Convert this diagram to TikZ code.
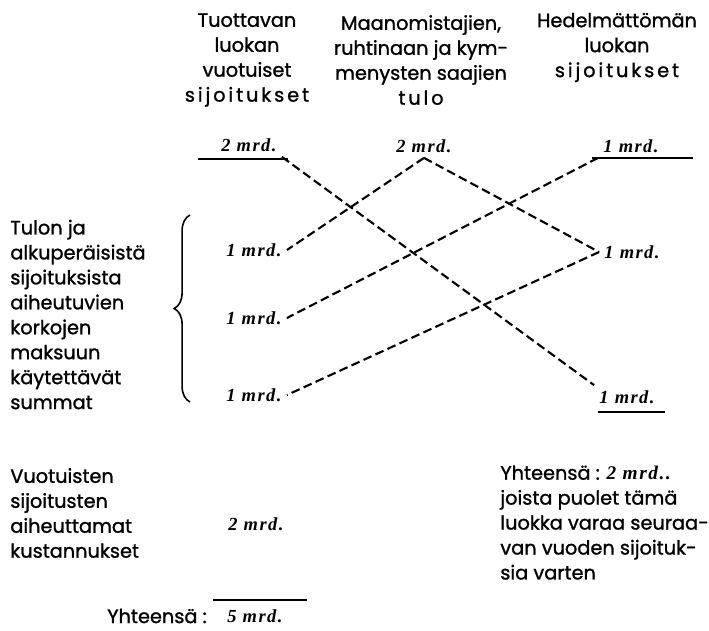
\documentclass[tikz,border=0pt]{standalone}
\usepackage{fontspec}
\setmainfont{Poppins}[FakeBold=1.2]
\newfontfamily\valfont{Liberation Serif}[LetterSpace=8]
\usepackage{tikz}
\usetikzlibrary{positioning,decorations.pathreplacing}
\newcommand{\spaced}[1]{{\addfontfeature{LetterSpace=15}#1}}

\begin{document}
\begin{tikzpicture}[x=0.02cm, y=-0.02cm,
  every node/.style={inner sep=0pt},
  txt/.style={font=\fontsize{11}{14.2}\selectfont},
  hd/.style={txt, align=center},
  val/.style={font=\valfont\bfseries\itshape\fontsize{10.5}{12}\selectfont, inner sep=0.1cm},
  link/.style={line width=1.2pt, dash pattern=on 5pt off 2.5pt},
  rule/.style={line width=1.2pt}]
  \useasboundingbox (0,0) rectangle (709,630);
  % column heads
  \node[hd] (colprod) at (247,60) {Tuottavan\\luokan\\vuotuiset\\\spaced{sijoitukset}};
  \node[hd] (colland) at (421,60) {Maanomistajien,\\ruhtinaan ja kym-\\menysten saajien\\\spaced{tulo}};
  \node[hd] (colster) at (617,47.5) {Hedelmättömän\\luokan\\\spaced{sijoitukset}};
  % first row of sums
  \node[val] (prod) at (249,145) {2 mrd.};
  \node[val] (land) at (424,146) {2 mrd.};
  \node[val] (ster) at (631,146) {1 mrd.};
  \draw[rule] (198,159) -- (288,159);
  \draw[rule] (592,158) -- (693,158);
  % interest sums on the left, receipts on the right
  \node[txt, anchor=west, align=left] (intlbl) at (10,314.5) {Tulon ja\\alkuperäisistä\\sijoituksista\\aiheutuvien\\korkojen\\maksuun\\käytettävät\\summat};
  \draw[decorate, decoration={brace, amplitude=9pt}, line width=0.9pt] (190,402) -- (190,215);
  \node[val] (int1) at (254,250) {1 mrd.};
  \node[val] (int2) at (254,318) {1 mrd.};
  \node[val] (int3) at (254,395) {1 mrd.};
  \node[val] (in1) at (632,252) {1 mrd.};
  \node[val] (in2) at (627,397) {1 mrd.};
  \draw[rule] (598,412) -- (665,412);
  % flows
  \draw[link] (prod.south east) -- (in2.north west);
  \draw[link] (land.south) -- (int1.east);
  \draw[link] (land.south) -- (in1.west);
  \draw[link] (ster.south west) -- (int2.east);
  \draw[link] (in1.west) -- (int3.east);
  % costs and totals
  \node[txt, anchor=west, align=left] (costlbl) at (10,513) {Vuotuisten\\sijoitusten\\aiheuttamat\\kustannukset};
  \node[val] (cost) at (256,524) {2 mrd.};
  \node[txt, anchor=west, align=left] (remark) at (500,522.5) {Yhteensä : {\valfont\bfseries\itshape 2 mrd..}\\joista puolet tämä\\luokka varaa seuraa-\\van vuoden sijoituk-\\sia varten};
  \node[val] (total) at (255,616) {5 mrd.};
  \node[txt, left=0.3cm of total] (sumlbl) {Yhteensä :};
  \draw[rule] (213,600) -- (307,600);
\end{tikzpicture}
\end{document}
